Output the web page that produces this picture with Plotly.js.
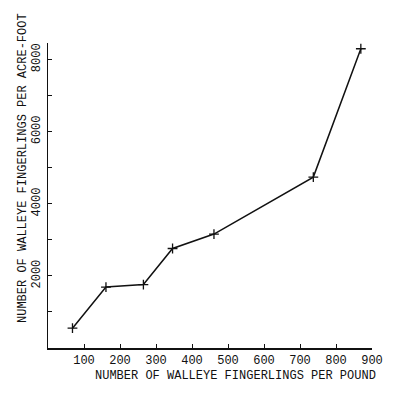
<!DOCTYPE html>
<html>
<head>
<meta charset="utf-8">
<script src="https://cdn.plot.ly/plotly-3.0.1.min.js"></script>
<style>html,body{margin:0;padding:0;background:#fff}#chart{width:400px;height:394px}</style>
</head>
<body>
<div id="chart"></div>
<script>
const fingerlingsPerPound = [68, 161, 265, 346, 461, 737, 869];
const fingerlingsPerAcreFoot = [550, 1690, 1760, 2760, 3160, 4740, 8300];
const xTickVals = [100, 200, 300, 400, 500, 600, 700, 800, 900];
const xTickText = ['100', '200', '300', '400', '500', '600', '700', '800', '900'];
const yTickVals = [1000, 2000, 3000, 4000, 5000, 6000, 7000, 8000];
const yTickText = ['', '2000', '', '4000', '', '6000', '', '8000'];
const xTitle = 'NUMBER OF WALLEYE FINGERLINGS PER POUND';
const yTitle = 'NUMBER OF WALLEYE FINGERLINGS PER ACRE-FOOT';

const W = 400, H = 394;
const M = {l: 48, r: 28, t: 43, b: 46};
const pw = W - M.l - M.r, ph = H - M.t - M.b;
const px2x = p => (p - M.l) / pw;
const py2y = p => (H - M.b - p) / ph;
const FONT = 'Liberation Mono, DejaVu Sans Mono, monospace';

const trace = {
  x: fingerlingsPerPound,
  y: fingerlingsPerAcreFoot,
  type: 'scatter',
  mode: 'lines+markers',
  line: {color: '#111', width: 1.5},
  marker: {symbol: 'cross-thin', size: 7, line: {color: '#111', width: 1.3}},
  hoverinfo: 'skip'
};

const layout = {
  width: W, height: H,
  margin: M,
  paper_bgcolor: '#fff',
  plot_bgcolor: '#fff',
  showlegend: false,
  font: {family: FONT, size: 12, color: '#111'},
  xaxis: {
    range: [0, 900],
    showgrid: false, zeroline: false,
    showline: true, linecolor: '#111', linewidth: 1.5,
    ticks: 'inside', ticklen: 4, tickwidth: 1, tickcolor: '#111',
    tickvals: xTickVals, ticktext: xTickText,
    tickfont: {family: FONT, size: 12, color: '#111'}
  },
  yaxis: {
    range: [0, 8460],
    showgrid: false, zeroline: false,
    showline: true, linecolor: '#111', linewidth: 1.5,
    ticks: 'inside', ticklen: 4, tickwidth: 1, tickcolor: '#111',
    tickvals: yTickVals, ticktext: yTickText,
    tickangle: -90,
    ticklabelstandoff: 2,
    tickfont: {family: FONT, size: 12, color: '#111'}
  },
  annotations: [
    {text: xTitle, xref: 'paper', yref: 'paper', x: px2x(235), y: py2y(376),
     showarrow: false, xanchor: 'center', yanchor: 'middle',
     font: {family: FONT, size: 12, color: '#111'}},
    {text: yTitle, xref: 'paper', yref: 'paper', x: px2x(23), y: py2y(168),
     showarrow: false, xanchor: 'center', yanchor: 'middle', textangle: -90,
     font: {family: FONT, size: 12, color: '#111'}}
  ]
};

Plotly.newPlot('chart', [trace], layout, {staticPlot: true, displayModeBar: false});
</script>
</body>
</html>
